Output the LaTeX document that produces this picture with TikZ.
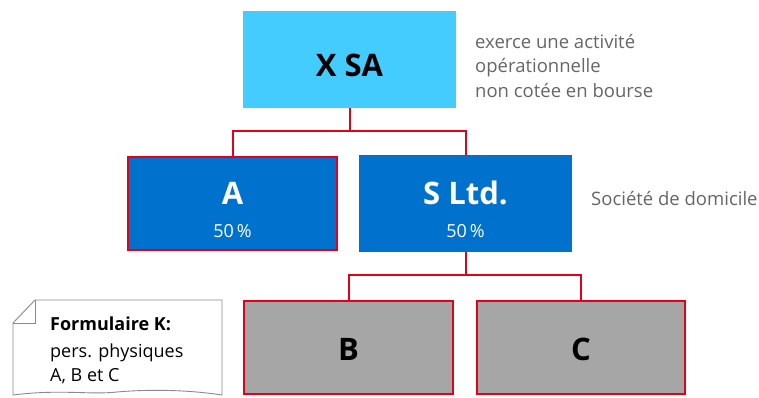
\documentclass[tikz,border=0pt]{standalone}
\usepackage{fontspec}
\setmainfont{Open Sans}
\definecolor{xsablue}{HTML}{44CCFF}
\definecolor{darkblue}{HTML}{0071CC}
\definecolor{boxgray}{HTML}{A6A6A6}
\definecolor{linered}{HTML}{E3001B}
\definecolor{notegray}{HTML}{666666}
\definecolor{edgegray}{HTML}{8A8A8A}
\tikzset{
  box/.style={rectangle, inner sep=0pt, outer sep=0pt},
  redframe/.style={draw=linered, line width=2.4pt},
  conn/.style={draw=linered, line width=2pt},
  bigtxt/.style={anchor=base, inner sep=0pt, font=\fontsize{31}{36}\selectfont\bfseries},
  pcttxt/.style={anchor=base, inner sep=0pt, text=white, font=\fontsize{18}{21}\selectfont},
  annot/.style={anchor=base west, inner sep=0pt, text=notegray, font=\fontsize{18.5}{22}\selectfont},
  notetxt/.style={anchor=base west, inner sep=0pt, font=\fontsize{18}{21}\selectfont},
}
\begin{document}
\begin{tikzpicture}[x=1pt,y=-1pt]
\useasboundingbox (0,0) rectangle (759,397);
% boxes
\node[box, fill=xsablue, minimum width=213pt, minimum height=97pt] (xsa) at (349.5,59.5) {};
\node[box, fill=darkblue, redframe, minimum width=209pt, minimum height=93pt] (a) at (232.5,203.5) {};
\node[box, fill=darkblue, minimum width=213pt, minimum height=97pt] (s) at (465.5,203.5) {};
\node[box, fill=boxgray, redframe, minimum width=209pt, minimum height=93pt] (b) at (348.5,347.5) {};
\node[box, fill=boxgray, redframe, minimum width=208pt, minimum height=93pt] (c) at (581,347.5) {};
% texts in boxes
\node[bigtxt] (xsat) at (349.5,76) {X SA};
\node[bigtxt, text=white] (at) at (232.5,204) {A};
\node[pcttxt] (ap) at (232.5,237) {50\,\%};
\node[bigtxt, text=white] (st) at (465.5,204) {S Ltd.};
\node[pcttxt] (sp) at (465.5,237) {50\,\%};
\node[bigtxt] (bt) at (348.5,360) {B};
\node[bigtxt] (ct) at (581,360) {C};
% connectors
\coordinate (h1) at (0,131);
\coordinate (h2) at (0,275);
\draw[conn] (xsa.south) -- (xsa.south |- h1);
\draw[conn] (a.north) -- (a.north |- h1) -| (s.north);
\draw[conn] (s.south) -- (s.south |- h2);
\draw[conn] (b.north) -- (b.north |- h2) -| (c.north);
% annotations
\node[annot] (n1) at (475,48) {exerce une activité};
\node[annot] (n2) at (475,72) {opérationnelle};
\node[annot] (n3) at (475,97) {non cotée en bourse};
\node[annot] (n4) at (591,205) {Société de domicile};
% note
\draw[edgegray, line width=0.9pt, fill=white]
  (13,323) -- (35,300) -- (222,300) -- (222,395)
  .. controls (190,390) and (150,389) .. (117,392)
  .. controls (90,395) and (60,389) .. (13,395) -- cycle;
\draw[edgegray, line width=0.9pt] (13,323) -- (35,323) -- (35,300);
\node[notetxt, font=\fontsize{18}{21}\selectfont\bfseries] (k1) at (50,330) {Formulaire K:};
\node[notetxt] (k2) at (50,357) {pers. physiques};
\node[notetxt] (k3) at (50,381) {A, B et C};
\end{tikzpicture}
\end{document}
